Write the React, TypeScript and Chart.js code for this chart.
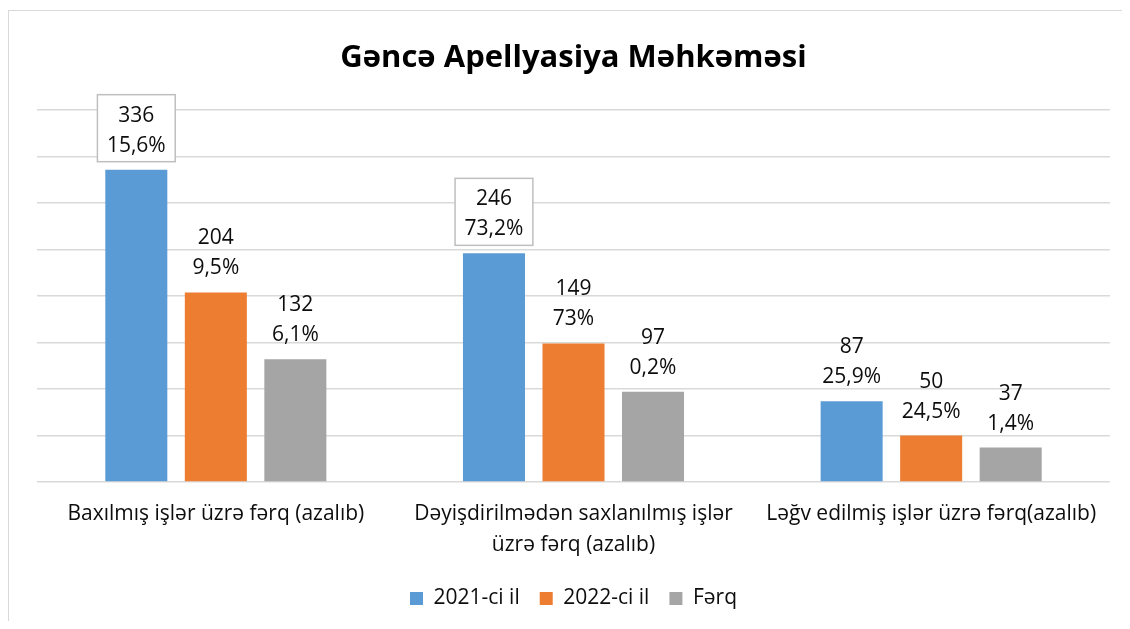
import React, { useEffect, useRef } from "react";
import { Chart, registerables } from "chart.js";

Chart.register(...registerables);

const categories: (string | string[])[] = [
  "Baxılmış işlər üzrə fərq (azalıb)",
  ["Dəyişdirilmədən saxlanılmış işlər", "üzrə fərq (azalıb)"],
  "Ləğv edilmiş işlər üzrə fərq(azalıb)",
];
const seriesNames = ["2021-ci il", "2022-ci il", "Fərq"];
const values2021 = [336, 246, 87];
const values2022 = [204, 149, 50];
const valuesDiff = [132, 97, 37];
const pct2021 = ["15,6%", "73,2%", "25,9%"];
const pct2022 = ["9,5%", "73%", "24,5%"];
const pctDiff = ["6,1%", "0,2%", "1,4%"];
const boxedLabels2021 = [true, true, false];
const title = "Gəncə Apellyasiya Məhkəməsi";
const yMax = 400;
const yStep = 50;

const COLORS = ["#5b9bd5", "#ed7d31", "#a5a5a5"];
const FONT = "'Open Sans', 'DejaVu Sans', sans-serif";

const pctLists = [pct2021, pct2022, pctDiff];

const labelPlugin = {
  id: "barLabels",
  afterDatasetsDraw(chart: any) {
    const ctx = chart.ctx;
    ctx.save();
    ctx.font = `21px ${FONT}`;
    ctx.textAlign = "center";
    ctx.textBaseline = "middle";
    chart.data.datasets.forEach((ds: any, di: number) => {
      const meta = chart.getDatasetMeta(di);
      meta.data.forEach((bar: any, i: number) => {
        const v = String(ds.data[i]);
        const p = pctLists[di][i];
        const x = bar.x;
        const y1 = bar.y - 54;
        const y2 = bar.y - 24;
        if (di === 0 && boxedLabels2021[i]) {
          const w = Math.max(ctx.measureText(v).width, ctx.measureText(p).width) + 19;
          const top = bar.y - 75;
          const bottom = bar.y - 8;
          ctx.fillStyle = "#ffffff";
          ctx.fillRect(x - w / 2, top, w, bottom - top);
          ctx.strokeStyle = "#bfbfbf";
          ctx.lineWidth = 1.5;
          ctx.strokeRect(x - w / 2, top, w, bottom - top);
        }
        ctx.fillStyle = "#0d0d0d";
        ctx.fillText(v, x, y1);
        ctx.fillText(p, x, y2);
      });
    });
    ctx.restore();
  },
};

export default function App() {
  const ref = useRef<HTMLCanvasElement | null>(null);
  useEffect(() => {
    if (!ref.current) return;
    const chart = new Chart(ref.current, {
      type: "bar",
      data: {
        labels: categories,
        datasets: [values2021, values2022, valuesDiff].map((d, i) => ({
          label: seriesNames[i],
          data: d,
          backgroundColor: COLORS[i],
          borderWidth: 0,
          categoryPercentage: 0.667,
          barPercentage: 0.78,
        })),
      },
      options: {
        animation: false,
        responsive: false,
        maintainAspectRatio: false,
        layout: { padding: { left: 29, right: 12, top: 0, bottom: 2 } },
        plugins: {
          title: {
            display: true,
            text: title,
            color: "#000000",
            font: { family: FONT, size: 31, weight: "bold" },
            padding: { top: 32, bottom: 33 },
          },
          legend: {
            display: true,
            position: "bottom",
            labels: {
              boxWidth: 13,
              boxHeight: 13,
              padding: 20,
              color: "#0d0d0d",
              font: { family: FONT, size: 21 },
            },
          },
          tooltip: { enabled: false },
        },
        scales: {
          x: {
            grid: { display: false, drawTicks: false },
            border: { display: false },
            ticks: {
              color: "#0d0d0d",
              font: { family: FONT, size: 21, lineHeight: 1.45 },
              padding: 17,
              maxRotation: 0,
              autoSkip: false,
            },
            afterFit: (s: any) => {
              s.height = 86;
            },
          },
          y: {
            min: 0,
            max: yMax,
            ticks: { display: false, stepSize: yStep },
            grid: { color: "#d9d9d9", lineWidth: 1.5, drawTicks: false },
            border: { display: false },
            afterFit: (s: any) => {
              s.width = 0;
            },
          },
        },
      },
      plugins: [labelPlugin],
    });
    return () => chart.destroy();
  }, []);
  return (
    <div style={{ position: "relative", width: 1114, height: 613 }}>
      <div
        style={{
          position: "absolute",
          left: 0,
          top: 2,
          width: 1121,
          height: 618,
          borderLeft: "1.5px solid #d9d9d9",
          borderTop: "1.5px solid #d9d9d9",
          boxSizing: "border-box",
        }}
      />
      <canvas
        ref={ref}
        width={1114}
        height={613}
        style={{ position: "absolute", left: 0, top: 0, width: 1114, height: 613 }}
      />
    </div>
  );
}
